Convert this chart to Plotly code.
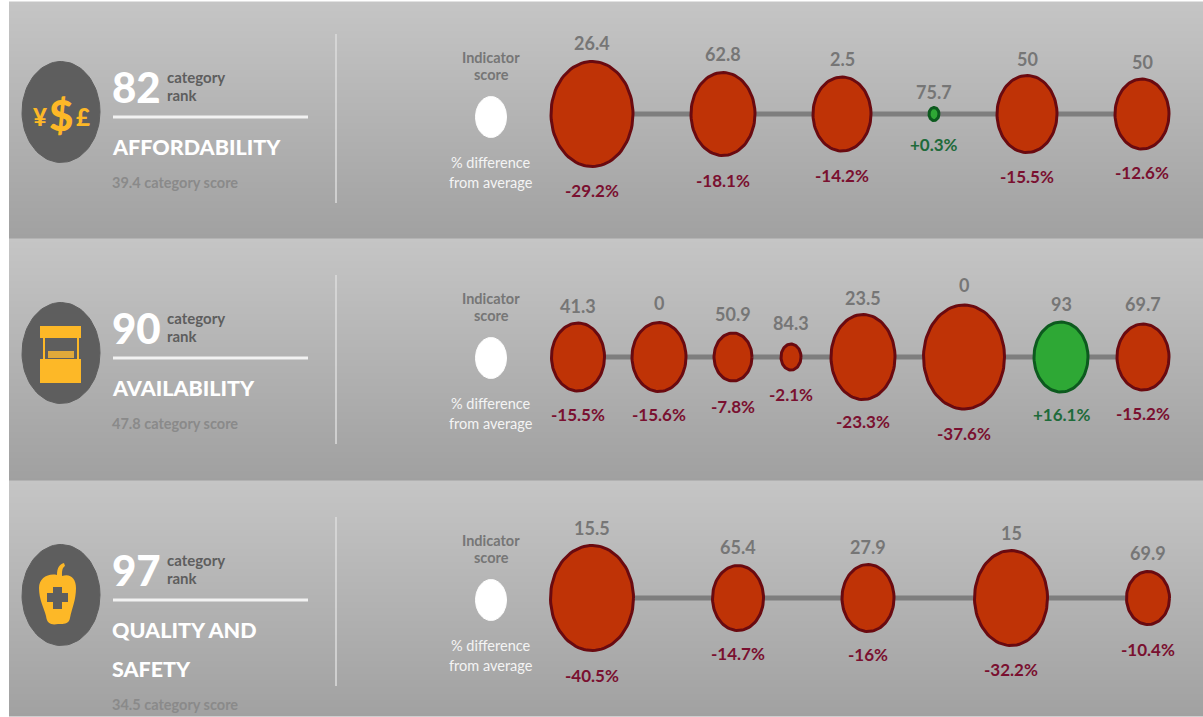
import numpy as np
import plotly.graph_objects as go

panel_tops = [2, 239, 481]
panel_bottoms = [239, 481, 717]
layout_tops = [2, 243, 485]
disc_y = [112, 353, 595]
ranks = ["82", "90", "97"]
titles = [["AFFORDABILITY"], ["AVAILABILITY"], ["QUALITY AND", "SAFETY"]]
cat_scores = ["39.4 category score", "47.8 category score", "34.5 category score"]

row1_scores = ["26.4", "62.8", "2.5", "75.7", "50", "50"]
row1_diffs = ["-29.2%", "-18.1%", "-14.2%", "+0.3%", "-15.5%", "-12.6%"]
row1_x = [592, 723, 842, 934, 1027, 1142]
row1_w = [82, 64, 58, 10, 60, 54]
row1_h = [105, 83, 74, 13, 77, 70]
row1_score_y = [43, 54, 59, 92, 59, 62]
row1_diff_y = [190, 180, 175, 144, 176, 172]

row2_scores = ["41.3", "0", "50.9", "84.3", "23.5", "0", "93", "69.7"]
row2_diffs = ["-15.5%", "-15.6%", "-7.8%", "-2.1%", "-23.3%", "-37.6%", "+16.1%", "-15.2%"]
row2_x = [578, 659, 733, 791, 863, 964, 1061, 1143]
row2_w = [53, 54, 38, 20, 64, 81, 54, 52]
row2_h = [68, 69, 48, 26, 85, 104, 70, 66]
row2_score_y = [306, 303, 314, 323, 298, 285, 304, 304]
row2_diff_y = [414, 414, 406, 394, 421, 433, 414, 413]

row3_scores = ["15.5", "65.4", "27.9", "15", "69.9"]
row3_diffs = ["-40.5%", "-14.7%", "-16%", "-32.2%", "-10.4%"]
row3_x = [592, 738, 868, 1011, 1148]
row3_w = [83, 51, 52, 73, 43]
row3_h = [105, 65, 67, 95, 53]
row3_score_y = [528, 547, 547, 533, 553]
row3_diff_y = [675, 653, 654, 669, 649]

rows = [
    (row1_scores, row1_diffs, row1_x, row1_w, row1_h, row1_score_y, row1_diff_y, 114),
    (row2_scores, row2_diffs, row2_x, row2_w, row2_h, row2_score_y, row2_diff_y, 357),
    (row3_scores, row3_diffs, row3_x, row3_w, row3_h, row3_score_y, row3_diff_y, 598),
]
FONT = "Lato"
RED, RED_LINE, GREEN, GREEN_LINE = "#bf3306", "#6a0a10", "#2ea835", "#0c5a1e"
INK = "#767676"

fig = go.Figure()

ys = np.arange(0, 717)
z = np.full((717, 2), np.nan)
for t, b in zip(panel_tops, panel_bottoms):
    for y in range(t, b):
        z[y, :] = 197 - (y - t) / 236 * 36
fig.add_trace(go.Heatmap(x=[9, 600, 1203], y=ys, z=z, zmin=0, zmax=255, showscale=False, hoverinfo="skip",
                         colorscale=[[0, "#000000"], [1, "#ffffff"]]))


def ellipse(cx, cy, w, h, fill, line, lw=3):
    t = np.linspace(0, 2 * np.pi, 90)
    fig.add_trace(go.Scatter(x=cx + w / 2 * np.cos(t), y=cy + h / 2 * np.sin(t), mode="lines",
                             fill="toself", fillcolor=fill, line=dict(color=line, width=lw),
                             hoverinfo="skip", showlegend=False))


def label(x, y, s, size, color, weight=700, anchor="center"):
    fig.add_annotation(x=x, y=y, text=s, showarrow=False, xanchor=anchor, yanchor="middle",
                       font=dict(family=FONT, size=size, color=color, weight=weight))


def segment(x0, y0, x1, y1, color, width):
    fig.add_shape(type="line", x0=x0, y0=y0, x1=x1, y1=y1, line=dict(color=color, width=width))


for i, (sc, df, xs, ws, hs, sy, dy, cy) in enumerate(rows):
    top = layout_tops[i]
    fig.add_trace(go.Scatter(x=[xs[0], xs[-1]], y=[cy, cy], mode="lines", hoverinfo="skip",
                             line=dict(color="#7e7e7e", width=5), showlegend=False))
    for s, d, x, w, h, y1, y2 in zip(sc, df, xs, ws, hs, sy, dy):
        up = d.startswith("+")
        ellipse(x, cy, w, h, GREEN if up else RED, GREEN_LINE if up else RED_LINE)
        label(x, y1, s, 18, INK)
        label(x, y2, d, 17, "#1e6b3a" if up else "#7a1030")

    label(491, top + 55, "Indicator", 14.5, INK)
    label(491, top + 72, "score", 14.5, INK)
    ellipse(491, top + 115, 31, 41, "#ffffff", "#ffffff", 1)
    label(491, top + 160, "% difference", 14.5, "#f4f4f4", 400)
    label(491, top + 180, "from average", 14.5, "#f4f4f4", 400)

    segment(336, top + 32, 336, top + 201, "#dcdcdc", 1.5)

    segment(113, top + 115, 308, top + 115, "#f2f2f2", 3)
    label(110, top + 85, ranks[i], 42, "#ffffff", 900, "left")
    label(165, top + 75, "category", 15, "#5e5e5e", 700, "left")
    label(165, top + 93, "rank", 15, "#5e5e5e", 700, "left")
    for j, t in enumerate(titles[i]):
        label(110, top + 145 + j * 39, t, 21.5, "#ffffff", 900, "left")
    label(110, top + 180 + (len(titles[i]) - 1) * 39, cat_scores[i], 14.5, "#8a8a8a", 700, "left")

    ellipse(61, disc_y[i], 78, 101, "#5e5e5e", "#5e5e5e", 1)

YEL = "#fdb827"
label(40, 116, "¥", 24, YEL, 900)
label(61, 115, "$", 42, YEL, 900)
label(83, 116, "£", 24, YEL, 900)


def rect(x0, y0, x1, y1, c=YEL):
    fig.add_shape(type="rect", x0=x0, y0=y0, x1=x1, y1=y1, fillcolor=c, line_width=0)


rect(40, 326, 81, 338)
rect(43, 338, 45, 360)
rect(77, 338, 79, 360)
rect(48, 351, 74, 358, "#e0a93a")
rect(40, 359, 81, 383)

fig.add_shape(type="path", fillcolor=YEL, line_width=0,
              path="M 57 575 C 57 567 60 564 64 563 L 65 566 C 62 568 62 571 62 576 "
                   "C 70 573 76 578 76 588 C 76 600 72 608 70 618 C 69 625 62 624 58 624 "
                   "C 53 625 47 625 46 616 C 44 608 39 600 39 588 C 39 578 48 573 57 575 Z")
rect(47, 593, 68, 602, "#5e5e5e")
rect(53, 587, 62, 609, "#5e5e5e")

fig.update_layout(
    width=1203, height=717, margin=dict(l=0, r=0, t=0, b=0), autosize=False,
    paper_bgcolor="#ffffff", plot_bgcolor="#ffffff", showlegend=False,
    xaxis=dict(range=[0, 1203], visible=False, fixedrange=True),
    yaxis=dict(range=[717, 0], visible=False, fixedrange=True),
)
fig.write_html("out.html", config={"displayModeBar": False},
               post_script="document.body.style.margin='0';document.body.style.overflow='hidden';")
